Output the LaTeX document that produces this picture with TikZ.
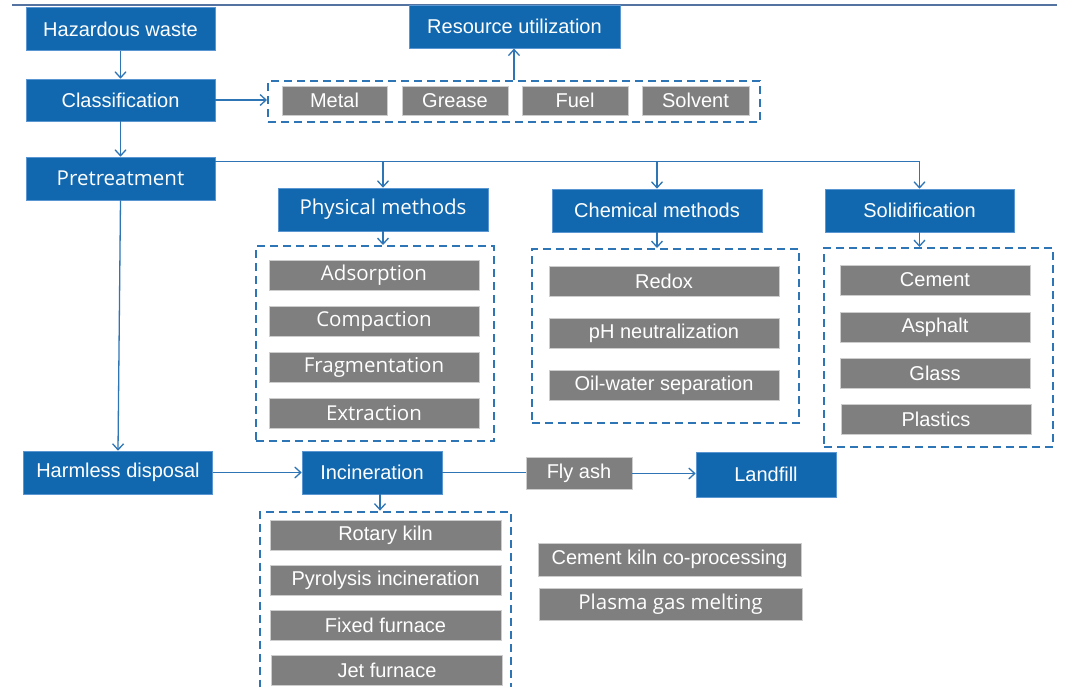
\documentclass[tikz,border=0pt]{standalone}
\usepackage{fontspec}
\setmainfont{Liberation Sans}
\newfontfamily\segoe{Open Sans}
\usetikzlibrary{arrows.meta}
\definecolor{boxblue}{RGB}{17,104,175}
\definecolor{edgeblue}{RGB}{90,150,210}
\definecolor{lineblue}{RGB}{46,117,182}
\definecolor{boxgray}{RGB}{127,127,127}
\definecolor{edgegray}{RGB}{205,205,205}
\definecolor{rulecol}{RGB}{84,115,160}
\begin{document}
\begin{tikzpicture}[x=1pt,y=-1pt,
  bluebox/.style={fill=boxblue, draw=edgeblue, line width=0.6pt, text=white,
    font=\fontsize{20}{22}\selectfont, inner sep=0pt, minimum height=43pt},
  graybox/.style={fill=boxgray, draw=edgegray, line width=0.6pt, text=white,
    font=\fontsize{20}{22}\selectfont, inner sep=0pt, minimum height=30pt},
  seg/.style={font=\segoe\fontsize{20.5}{23}\selectfont},
  dbox/.style={draw=lineblue, line width=2pt, dash pattern=on 8pt off 5pt, inner sep=0pt},
  conn/.style={draw=lineblue, line width=1.3pt},
  arr/.style={conn, -{Straight Barb[length=6pt,width=11pt,line width=1.3pt]}},
]
\clip (0,0) rectangle (1071,686);
\fill[white] (0,0) rectangle (1071,686);
\draw[rulecol, line width=2pt] (12,5) -- (1057,5);

% dashed group boxes
\node[dbox, minimum width=492pt, minimum height=41pt] (resbox) at (514,101.5) {};
\node[dbox, minimum width=238.5pt, minimum height=195pt] (physbox) at (375,343.5) {};
\node[dbox, minimum width=267pt, minimum height=174pt] (chembox) at (665.5,336) {};
\node[dbox, minimum width=229pt, minimum height=199pt] (solidbox) at (938.5,347.5) {};
\node[dbox, minimum width=251pt, minimum height=188pt] (incbox) at (385.5,605.6) {};

% blue boxes
\node[bluebox, minimum width=189pt] (hw) at (120.5,29) {Hazardous waste};
\node[bluebox, minimum width=189pt, minimum height=42pt] (cls) at (120.5,100) {Classification};
\node[bluebox, minimum width=211pt] (res) at (514.5,26.8) {Resource utilization};
\node[bluebox, seg, minimum width=189pt] (pre) at (120.5,178.5) {Pretreatment};
\node[bluebox, seg, minimum width=210pt] (phys) at (383,209.5) {Physical methods};
\node[bluebox, minimum width=210pt] (chem) at (657,210.5) {Chemical methods};
\node[bluebox, minimum width=189pt] (solid) at (919.5,210.5) {Solidification};
\node[bluebox, minimum width=189pt] (harm) at (118,472.5) {Harmless disposal};
\node[bluebox, minimum width=140pt] (inc) at (372,472.5) {Incineration};
\node[bluebox, minimum width=140pt, minimum height=45pt] (land) at (766,474.5) {Landfill};

% gray items
\node[graybox, minimum width=105pt, minimum height=29pt] (metal) at (334.5,100.5) {Metal};
\node[graybox, minimum width=106pt, minimum height=29pt] (grease) at (455,100.5) {Grease};
\node[graybox, minimum width=106pt, minimum height=29pt] (fuel) at (575,100.5) {Fuel};
\node[graybox, minimum width=107pt, minimum height=29pt] (solvent) at (695.5,100.5) {Solvent};

\node[graybox, seg, minimum width=210pt] (ads) at (374,275) {Adsorption};
\node[graybox, seg, minimum width=210pt] (comp) at (374,321) {Compaction};
\node[graybox, seg, minimum width=210pt] (frag) at (374,367) {Fragmentation};
\node[graybox, seg, minimum width=210pt] (extr) at (374,413) {Extraction};

\node[graybox, minimum width=230pt] (redox) at (664,281) {Redox};
\node[graybox, minimum width=230pt] (ph) at (664,333) {pH neutralization};
\node[graybox, minimum width=230pt] (oil) at (664,385.5) {Oil-water separation};

\node[graybox, minimum width=190pt] (cem) at (935,280) {Cement};
\node[graybox, minimum width=190pt] (asph) at (935,327) {Asphalt};
\node[graybox, minimum width=190pt] (glass) at (935,373) {Glass};
\node[graybox, minimum width=190pt] (plast) at (936,419) {Plastics};

\node[graybox, minimum width=231pt] (rot) at (385.5,535) {Rotary kiln};
\node[graybox, minimum width=231pt] (pyr) at (385.5,580) {Pyrolysis incineration};
\node[graybox, minimum width=231pt] (fix) at (385.5,625.5) {Fixed furnace};
\node[graybox, minimum width=231pt] (jet) at (387,670.5) {Jet furnace};

\node[graybox, minimum width=106pt, minimum height=32pt] (fly) at (579,473.5) {Fly ash};
\node[graybox, minimum width=263pt, minimum height=33pt] (ckiln) at (669.5,559.5) {Cement kiln co-processing};
\node[graybox, seg, minimum width=263pt, minimum height=32pt] (plasma) at (670.5,604) {Plasma gas melting};

% connectors
\draw[arr] (hw.south) -- (cls.north);
\draw[arr] (cls.east) -- (cls.east -| resbox.west);
\draw[arr] (resbox.north) -- (resbox.north |- res.south);
\draw[arr] (cls.south) -- (pre.north);
\coordinate (bus) at ([yshift=-5pt]pre.north east);
\draw[arr] (bus) -| (solid.north);
\draw[arr] (bus -| phys.north) -- (phys.north);
\draw[arr] (bus -| chem.north) -- (chem.north);
\draw[arr] (phys.south) -- (phys.south |- physbox.north);
\draw[arr] (chem.south) -- (chem.south |- chembox.north);
\draw[arr] (solid.south) -- (solid.south |- solidbox.north);
\draw[arr] (pre.south) -- (harm.north);
\draw[arr] (harm.east) -- (inc.west);
\draw[arr] ([xshift=8pt]inc.south) -- ([xshift=8pt]inc.south |- incbox.north);
\draw[conn] (inc.east) -- (inc.east -| fly.west);
\draw[arr] (fly.east) -- (fly.east -| land.west);
\end{tikzpicture}
\end{document}
